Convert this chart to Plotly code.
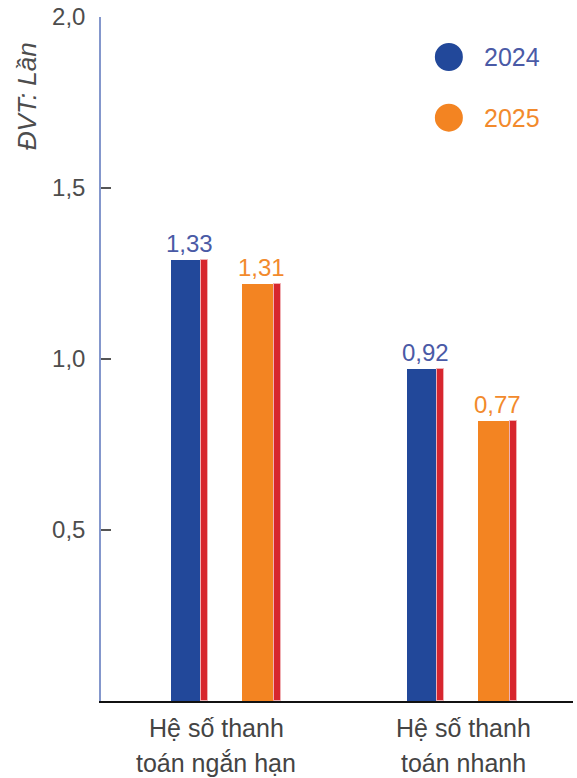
import plotly.graph_objects as go

categories = ["Hệ số thanh toán ngắn hạn", "Hệ số thanh toán nhanh"]
cat_lines = [["Hệ số thanh", "toán ngắn hạn"], ["Hệ số thanh", "toán nhanh"]]
series_names = ["2024", "2025"]
bar_2024 = [1.29, 0.97]
bar_2025 = [1.22, 0.82]
labels_2024 = ["1,33", "0,92"]
labels_2025 = ["1,31", "0,77"]
y_ticks = [0.5, 1.0, 1.5, 2.0]
y_tick_text = ["0,5", "1,0", "1,5", "2,0"]

FONT = "Liberation Sans, Arial, sans-serif"
BLUE = "#22489a"
ORANGE = "#f38422"
RED = "#d7262e"
BLUE_TXT = "#4a5aa6"
ORANGE_TXT = "#f28a2c"
GRAY = "#444444"

xs = list(range(len(categories)))

# style offsets (data units; 1 unit = one category slot)
styles = [
    dict(vals=bar_2024, labels=labels_2024, color=BLUE, txt=BLUE_TXT,
         main_off=-0.1403, main_w=0.1237, red_off=-0.0625, red_w=0.0318, txt_off=-0.124),
    dict(vals=bar_2025, labels=labels_2025, color=ORANGE, txt=ORANGE_TXT,
         main_off=0.1659, main_w=0.1343, red_off=0.2487, red_w=0.0314, txt_off=0.1816),
]

fig = go.Figure()
for name, s in zip(series_names, styles):
    fig.add_trace(go.Bar(
        x=[x + s["main_off"] for x in xs], y=s["vals"], width=s["main_w"],
        marker=dict(color=s["color"], line=dict(width=0)), name=name, showlegend=False,
        hoverinfo="skip"))
    fig.add_trace(go.Bar(
        x=[x + s["red_off"] for x in xs], y=s["vals"], width=s["red_w"],
        marker=dict(color=RED, line=dict(width=1, color="#f0b0b4")), showlegend=False,
        hoverinfo="skip"))
    for x, v, lab in zip(xs, s["vals"], s["labels"]):
        fig.add_annotation(x=x + s["txt_off"], y=v, xref="x", yref="y", text=lab,
                           showarrow=False, xanchor="center", yanchor="bottom", yshift=1,
                           font=dict(family=FONT, size=24, color=s["txt"]))

fig.update_layout(
    width=577, height=778,
    margin=dict(l=101, r=4, t=17, b=77),
    paper_bgcolor="white", plot_bgcolor="white",
    barmode="overlay", bargap=0,
    font=dict(family=FONT, color=GRAY),
    xaxis=dict(range=[-0.5, 1.5], showgrid=False, zeroline=False, showticklabels=False,
               ticks="", showline=True, linecolor="#111111", linewidth=2),
    yaxis=dict(range=[0, 2], showgrid=False, zeroline=False, tickvals=y_ticks,
               ticktext=y_tick_text, ticks="inside", ticklen=10, tickwidth=1.5,
               tickcolor="#555555", showline=True, linecolor="#8497cc", linewidth=1.5,
               tickfont=dict(family=FONT, size=24, color="#4d4d4d"), ticklabelstandoff=9),
)

# category labels
xshifts = [-3, 8]
for i, lines in enumerate(cat_lines):
    for j, (ln, yy) in enumerate(zip(lines, [-0.0395, -0.0906])):
        fig.add_annotation(x=xs[i], y=yy, xref="x", yref="paper", text=ln, showarrow=False,
                           xanchor="center", yanchor="middle", xshift=xshifts[i],
                           font=dict(family=FONT, size=25, color=GRAY))

# y axis unit title
fig.add_annotation(x=-0.157, y=0.884, xref="paper", yref="paper", text="<i>ĐVT: Lần</i>",
                   textangle=-90, showarrow=False, xanchor="center", yanchor="middle",
                   font=dict(family=FONT, size=26, color="#4d4d4d"))

# legend
for name, s, yy in zip(series_names, styles, [0.9415, 0.8528]):
    fig.add_shape(type="circle", xref="paper", yref="paper", xsizemode="pixel",
                  ysizemode="pixel", xanchor=0.737, yanchor=yy, x0=-14, x1=14, y0=-14, y1=14,
                  fillcolor=s["color"], line=dict(width=0))
    fig.add_annotation(x=0.807, y=yy, xref="paper", yref="paper", text=name, showarrow=False,
                       xanchor="left", yanchor="middle",
                       font=dict(family=FONT, size=25, color=s["txt"]))

fig.write_html("out.html")
